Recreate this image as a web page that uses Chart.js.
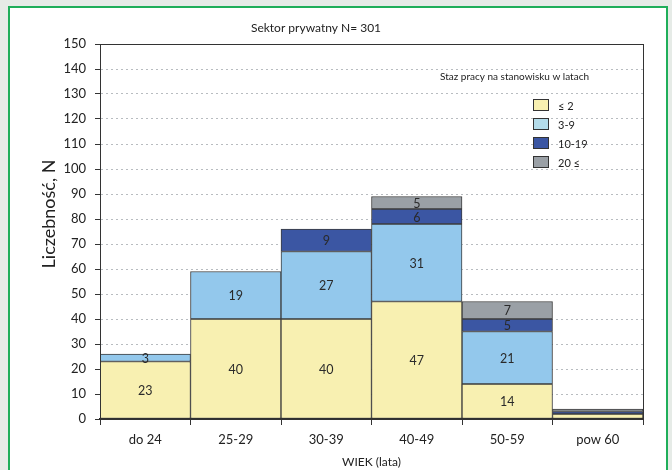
<!DOCTYPE html>
<html>
<head>
<meta charset="utf-8">
<script src="https://cdn.jsdelivr.net/npm/chart.js@4"></script>
<style>
  html, body { margin: 0; padding: 0; background: #e6ebe7; }
  #frame {
    position: absolute; left: 8px; top: 6px; width: 656px; height: 480px;
    border: 2px solid #1fae5a; background: #fff;
  }
  #price-chart { position: absolute; left: 0; top: 0; }
</style>
</head>
<body>
<div id="frame"></div>
<canvas id="price-chart" width="672" height="470"></canvas>
<script>
const ageGroups = ['do 24', '25-29', '30-39', '40-49', '50-59', 'pow 60'];
const seriesNames = ['≤ 2', '3-9', '10-19', '20 ≤'];
const under2   = [23, 40, 40, 47, 14, 2];
const y3to9    = [3, 19, 27, 31, 21, 0];
const y10to19  = [0, 0, 9, 6, 5, 1];
const over20   = [0, 0, 0, 5, 7, 1];
const yTicks   = { min: 0, max: 150, step: 10 };

const chartTitle = 'Sektor prywatny N= 301';
const yTitle = 'Liczebność, N';
const xTitle = 'WIEK (lata)';
const legendTitle = 'Staz pracy na stanowisku w latach';

const barColors = ['#f8f0b1', '#93c8ec', '#3b56a3', '#9aa0a6'];
const legendColors = ['#f8f0b1', '#b4dcea', '#3b56a3', '#9aa0a6'];
const fontFamily = 'Lato, "Open Sans", sans-serif';

// titles, frame, legend and segment labels
const decorations = {
    id: 'decorations',
    afterDatasetsDraw(chart) {
        const { ctx, chartArea } = chart;
        ctx.save();

        // segment values
        ctx.font = '12.5px ' + fontFamily;
        ctx.fillStyle = '#2a2a2a';
        ctx.textAlign = 'center';
        ctx.textBaseline = 'middle';
        chart.data.datasets.forEach((ds, i) => {
            chart.getDatasetMeta(i).data.forEach((bar, j) => {
                const v = ds.data[j];
                if (v >= 3) ctx.fillText(String(v), bar.x, (bar.y + bar.base) / 2 + 1);
            });
        });

        // plot frame
        ctx.strokeStyle = '#333';
        ctx.lineWidth = 1;
        ctx.strokeRect(chartArea.left + 0.5, chartArea.top + 0.5,
                       chartArea.right - chartArea.left, chartArea.bottom - chartArea.top);

        // chart title
        ctx.font = '12px ' + fontFamily;
        ctx.fillStyle = '#222';
        ctx.fillText(chartTitle, 316, 28);

        // y title
        ctx.save();
        ctx.translate(49, 214);
        ctx.rotate(-Math.PI / 2);
        ctx.font = '18px ' + fontFamily;
        ctx.fillText(yTitle, 0, 0);
        ctx.restore();

        // legend
        ctx.font = '10px ' + fontFamily;
        ctx.textAlign = 'left';
        ctx.fillText(legendTitle, 440, 77);
        ctx.font = '11px ' + fontFamily;
        chart.data.datasets.forEach((ds, i) => {
            const y = 99 + i * 19;
            ctx.fillStyle = legendColors[i];
            ctx.fillRect(533, y, 15, 11);
            ctx.strokeStyle = '#333';
            ctx.strokeRect(533.5, y + 0.5, 15, 11);
            ctx.fillStyle = '#222';
            ctx.fillText(ds.label, 558, y + 7);
        });
        ctx.restore();
    }
};

const ctx = document.getElementById('price-chart').getContext('2d');
const chart = new Chart(ctx, {
    type: 'bar',
    data: {
        labels: ageGroups,
        datasets: [under2, y3to9, y10to19, over20].map((d, i) => ({
            label: seriesNames[i],
            data: d,
            backgroundColor: barColors[i],
            borderColor: '#3d3d3d',
            borderWidth: 1,
            borderSkipped: false,
            barPercentage: 1,
            categoryPercentage: 1
        }))
    },
    options: {
        responsive: false,
        animation: false,
        layout: { padding: { top: 44, right: 29, bottom: 0, left: 0 } },
        plugins: {
            legend: { display: false },
            tooltip: { enabled: false }
        },
        scales: {
            x: {
                stacked: true,
                afterFit: s => { s.height = 51; },
                grid: { offset: true, drawOnChartArea: false, tickLength: 6, tickColor: '#333' },
                border: { color: '#222', width: 1.5 },
                ticks: { color: '#222', padding: 7, font: { family: fontFamily, size: 13 } },
                title: { display: true, text: xTitle, color: '#222',
                         font: { family: fontFamily, size: 12 }, padding: { top: 0, bottom: 1 } }
            },
            y: {
                stacked: true,
                min: yTicks.min,
                max: yTicks.max,
                afterFit: s => { s.width = 100; },
                grid: { color: '#b8bcc0', tickLength: 5, tickColor: '#333', tickBorderDash: [] },
                border: { color: '#333', width: 1, dash: [2, 3] },
                ticks: { stepSize: yTicks.step, color: '#222', padding: 9,
                         font: { family: fontFamily, size: 13 } }
            }
        }
    },
    plugins: [decorations]
});
</script>
</body>
</html>
